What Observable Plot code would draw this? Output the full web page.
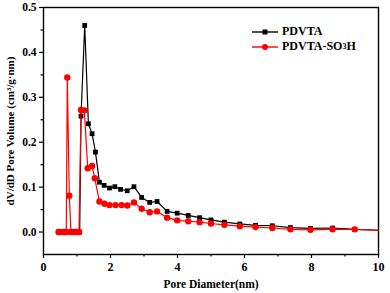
<!DOCTYPE html>
<html><head><meta charset="utf-8">
<script src="https://cdn.jsdelivr.net/npm/d3@7"></script>
<script src="https://cdn.jsdelivr.net/npm/@observablehq/plot@0.6"></script>
<style>
body{margin:0;background:#fff;}
#wrap{position:relative;width:390px;height:293px;font-family:"Liberation Serif","Times New Roman",serif;}
#legend{position:absolute;left:252px;top:24px;font-weight:bold;font-size:12px;color:#000;line-height:15px;}
#legend .row{display:flex;align-items:center;height:15px;}
#legend svg{margin-right:4px;}
</style></head><body><div id="wrap"><div id="legend"></div></div>
<script>
const seriesNames = ["PDVTA", "PDVTA-SO₃H"];
const seriesColors = ["#000000", "#ff0000"];
const pdvtaD = [0.45,0.55,0.65,0.72,0.82,0.92,1.02,1.08,1.12,1.23,1.34,1.45,1.55,1.67,1.81,1.97,2.13,2.3,2.5,2.7,2.93,3.17,3.39,3.69,3.99,4.32,4.66,5.0,5.4,5.86,6.33,6.83,7.37,7.97,8.63,9.29,10];
const pdvtaV = [0,0,0,0,0,0,0,0,0.258,0.46,0.241,0.219,0.178,0.111,0.104,0.098,0.101,0.095,0.092,0.101,0.077,0.066,0.068,0.046,0.042,0.037,0.032,0.027,0.022,0.018,0.015,0.014,0.010,0.008,0.009,0.006,0.004];
const sulfD = [0.45,0.52,0.58,0.64,0.68,0.71,0.77,0.82,0.88,0.94,1.0,1.06,1.12,1.22,1.32,1.45,1.53,1.67,1.82,1.97,2.15,2.33,2.5,2.7,2.93,3.17,3.39,3.69,3.99,4.32,4.66,5.0,5.4,5.86,6.33,6.83,7.37,7.97,8.63,9.29,10];
const sulfV = [0,0,0,0,0,0.344,0.081,0,0,0,0,0,0.272,0.271,0.142,0.147,0.12,0.068,0.063,0.06,0.06,0.06,0.059,0.066,0.052,0.044,0.046,0.032,0.026,0.024,0.022,0.019,0.016,0.013,0.011,0.009,0.006,0.005,0.006,0.006,0.004];
const xMajor = [0,2,4,6,8,10];
const xMinor = [1,3,5,7,9];
const yMajor = [0,0.1,0.2,0.3,0.4,0.5];
const yMinor = [0.05,0.15,0.25,0.35,0.45];

const pdvta = pdvtaD.map((d,i)=>({d, v: pdvtaV[i]}));
const sulf = sulfD.map((d,i)=>({d, v: sulfV[i]}));

const font = "'Liberation Serif','Times New Roman',serif";
const chart = Plot.plot({
  width: 390, height: 293,
  marginLeft: 43, marginRight: 12, marginTop: 7, marginBottom: 39,
  style: {fontFamily: font, fontSize: "11px", fontWeight: "bold", background: "#fff", color: "#000"},
  x: {domain: [0,10]},
  y: {domain: [-0.05,0.5]},
  marks: [
    Plot.axisX({ticks: xMajor, tickFormat: d3.format("d"), tickSize: 4, tickPadding: 4, fontSize: 12, strokeWidth: 1.2, label: null}),
    Plot.axisX({ticks: [], label: "Pore Diameter(nm)", labelAnchor: "center", labelOffset: 33, labelArrow: "none", fontSize: 11.5}),
    Plot.axisX({ticks: xMinor, tickFormat: () => "", tickSize: 2.5, strokeWidth: 1.2, label: null}),
    Plot.axisY({ticks: yMajor, tickFormat: d3.format(".1f"), tickSize: 4, tickPadding: 3, fontSize: 11.5, strokeWidth: 1.2, label: null}),
    Plot.axisY({ticks: [], label: "dV/dD Pore Volume (cm³/g·nm)", labelAnchor: "center", labelOffset: 37, labelArrow: "none", fontSize: 11}),
    Plot.axisY({ticks: yMinor, tickFormat: () => "", tickSize: 2.5, strokeWidth: 1.2, label: null}),
    Plot.frame({stroke: "#000", strokeWidth: 1.4}),
    Plot.line(pdvta, {x: "d", y: "v", stroke: seriesColors[0], strokeWidth: 1.2}),
    Plot.dot(pdvta.filter(p => p.d < 10), {x: "d", y: "v", symbol: "square", r: 2.7, fill: seriesColors[0], stroke: "none"}),
    Plot.line(sulf, {x: "d", y: "v", stroke: seriesColors[1], strokeWidth: 1.2}),
    Plot.dot(sulf.filter(p => p.d < 10), {x: "d", y: "v", symbol: "circle", r: 3.2, fill: seriesColors[1], stroke: "none"})
  ]
});
document.getElementById("wrap").prepend(chart);

const legend = document.getElementById("legend");
seriesNames.forEach((name, i) => {
  const row = document.createElement("div");
  row.className = "row";
  const sym = i === 0
    ? `<rect x="10.5" y="4.5" width="5" height="5" fill="${seriesColors[i]}"/>`
    : `<circle cx="13" cy="7" r="3" fill="${seriesColors[i]}"/>`;
  row.innerHTML = `<svg width="26" height="14"><line x1="0" x2="26" y1="7" y2="7" stroke="${seriesColors[i]}" stroke-width="1.4"/>${sym}</svg>` +
    (i === 0 ? "PDVTA" : "PDVTA-SO<sub style='font-size:8px;vertical-align:-3px'>3</sub>H");
  legend.appendChild(row);
});
</script>
</body></html>
